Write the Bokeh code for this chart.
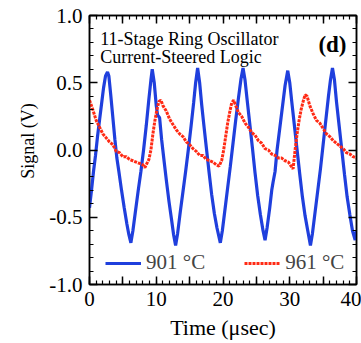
import numpy as np
from bokeh.plotting import figure
from bokeh.models import (LinearAxis, FixedTicker, Range1d, Label, Legend, LegendItem,
                          PrintfTickFormatter, CustomLabelingPolicy)
from bokeh.embed import file_html
from bokeh.resources import INLINE

# ---- data ----
t_901 = [0.0, 0.3, 0.6, 0.9, 1.2, 1.5, 1.8, 2.1, 2.4, 2.7, 2.9, 3.2, 3.5, 3.8, 4.1, 4.4, 4.8, 5.2,
         5.6, 5.9, 6.2, 6.5, 6.9, 7.3, 7.7, 8.1, 8.5, 8.9, 9.2, 9.4, 9.7, 10.0, 10.2, 10.5, 10.8,
         11.1, 11.5, 11.9, 12.3, 12.6, 12.9, 13.2, 13.6, 14.0, 14.4, 14.8, 15.2, 15.6, 15.9, 16.2,
         16.5, 16.8, 17.1, 17.5, 17.9, 18.3, 18.7, 19.1, 19.6, 19.9, 20.3, 20.7, 21.1, 21.5, 21.9,
         22.3, 22.7, 23.0, 23.3, 23.6, 24.0, 24.4, 24.8, 25.2, 25.6, 26.0, 26.3, 26.6, 27.0, 27.3,
         27.5, 27.8, 28.1, 28.5, 28.9, 29.3, 29.7, 30.0, 30.3, 30.7, 31.1, 31.5, 31.9, 32.3, 32.7,
         33.1, 33.4, 33.8, 34.2, 34.6, 35.0, 35.4, 35.8, 36.1, 36.4, 36.7, 37.0, 37.4, 37.8, 38.2,
         38.6, 39.0, 39.4, 39.8, 40.0]
v_901 = [-0.43, -0.30, -0.16, -0.04, 0.10, 0.22, 0.34, 0.46, 0.55, 0.58, 0.55, 0.40, 0.24, 0.08,
         -0.06, -0.16, -0.30, -0.43, -0.55, -0.63, -0.69, -0.60, -0.45, -0.30, -0.16, 0.00, 0.18,
         0.38, 0.52, 0.60, 0.50, 0.33, 0.26, 0.24, 0.08, -0.05, -0.22, -0.38, -0.52, -0.63, -0.71,
         -0.62, -0.46, -0.31, -0.16, 0.00, 0.17, 0.35, 0.50, 0.61, 0.50, 0.34, 0.20, 0.02, -0.16,
         -0.33, -0.47, -0.58, -0.69, -0.60, -0.44, -0.28, -0.12, 0.05, 0.22, 0.38, 0.53, 0.61,
         0.52, 0.38, 0.20, 0.02, -0.17, -0.34, -0.48, -0.60, -0.67, -0.58, -0.43, -0.30, -0.24,
         -0.16, 0.00, 0.16, 0.32, 0.48, 0.59, 0.50, 0.36, 0.18, 0.00, -0.18, -0.35, -0.49, -0.60,
         -0.71, -0.62, -0.46, -0.30, -0.14, 0.04, 0.22, 0.40, 0.52, 0.61, 0.52, 0.36, 0.18, 0.00,
         -0.18, -0.35, -0.48, -0.60, -0.67, -0.60]

t_961 = [0.0, 0.5, 1.0, 1.5, 2.0, 2.5, 3.0, 3.5, 4.0, 4.5, 5.0, 5.5, 6.0, 6.5, 7.0, 7.5, 8.0, 8.3,
         8.6, 8.9, 9.2, 9.5, 9.8, 10.1, 10.4, 10.7, 11.0, 11.5, 12.0, 12.5, 13.0, 13.5, 14.0, 14.5,
         15.0, 15.5, 16.0, 16.5, 17.0, 17.5, 18.0, 18.5, 19.0, 19.4, 19.8, 20.1, 20.4, 20.7, 21.0,
         21.3, 21.6, 21.9, 22.3, 22.8, 23.3, 23.8, 24.3, 24.8, 25.3, 25.8, 26.3, 26.8, 27.3, 27.8,
         28.3, 28.8, 29.3, 29.8, 30.2, 30.5, 30.8, 31.1, 31.4, 31.7, 32.0, 32.3, 32.6, 33.0, 33.5,
         34.0, 34.5, 35.0, 35.5, 36.0, 36.5, 37.0, 37.5, 38.0, 38.5, 39.0, 39.5, 40.0]
v_961 = [0.37, 0.30, 0.22, 0.17, 0.12, 0.09, 0.06, 0.04, -0.01, -0.02, -0.05, -0.05, -0.07, -0.08,
         -0.09, -0.10, -0.11, -0.13, -0.10, -0.07, 0.00, 0.12, 0.22, 0.30, 0.36, 0.37, 0.33, 0.29,
         0.23, 0.19, 0.15, 0.12, 0.10, 0.06, 0.04, 0.01, -0.01, -0.04, -0.04, -0.07, -0.08, -0.09,
         -0.11, -0.12, -0.08, 0.00, 0.10, 0.20, 0.28, 0.35, 0.37, 0.33, 0.28, 0.25, 0.20, 0.17,
         0.13, 0.11, 0.07, 0.05, 0.01, 0.00, -0.03, -0.04, -0.06, -0.06, -0.08, -0.09, -0.12,
         -0.14, 0.00, 0.12, 0.22, 0.30, 0.36, 0.41, 0.40, 0.33, 0.27, 0.22, 0.20, 0.16, 0.12, 0.10,
         0.07, 0.05, 0.03, 0.01, -0.02, -0.03, -0.05, -0.06]

x_ticks = [0, 5, 10, 15, 20, 25, 30, 35, 40]
x_labels = {0: "0", 5: "", 10: "10", 15: "", 20: "20", 25: "", 30: "30", 35: "", 40: "40"}
y_ticks = [-1.0, -0.5, 0.0, 0.5, 1.0]

series_names = ["901 °C", "961 °C"]
title_lines = ["11-Stage Ring Oscillator", "Current-Steered Logic"]

BLUE = "#1f3fdd"
RED = "#ff2a14"
FONT = "'Liberation Serif', 'Times New Roman', serif"

p = figure(width=361, height=343, output_backend="svg", toolbar_location=None,
           x_range=Range1d(0, 40), y_range=Range1d(-1, 1),
           x_axis_location=None, y_axis_location=None,
           min_border_left=89, min_border_right=4, min_border_top=15, min_border_bottom=59)
p.xgrid.visible = False
p.ygrid.visible = False
p.outline_line_color = "black"
p.outline_line_width = 1.5
p.background_fill_color = "white"
p.border_fill_color = "white"

xt = FixedTicker(ticks=x_ticks, minor_ticks=list(range(0, 41)))
yt = FixedTicker(ticks=y_ticks, minor_ticks=[round(v, 1) for v in np.arange(-1.0, 1.01, 0.1)])

no_labels = CustomLabelingPolicy(code="""
for (const i of indices) indices.unset(i)
return indices
""")


def style(ax, labels):
    ax.major_tick_in = 8
    ax.major_tick_out = 0
    ax.minor_tick_in = 4
    ax.minor_tick_out = 0
    ax.axis_line_width = 1.5
    ax.major_tick_line_width = 1.5
    ax.minor_tick_line_width = 1.2
    ax.axis_line_color = "black"
    ax.major_tick_line_color = "black"
    ax.minor_tick_line_color = "black"
    if labels:
        ax.major_label_text_font = FONT
        ax.major_label_text_font_size = "21px"
        ax.major_label_text_color = "black"
        ax.axis_label_text_font = FONT
        ax.axis_label_text_font_style = "normal"
        ax.axis_label_text_color = "black"
    else:
        ax.major_label_text_font_size = "1px"
        ax.major_label_standoff = 0
        ax.major_label_policy = no_labels
        ax.axis_label = None


bottom = LinearAxis(ticker=xt, major_label_overrides=x_labels, axis_label="Time (μsec)")
style(bottom, True)
bottom.axis_label_text_font_size = "22px"
bottom.major_label_standoff = 7
bottom.axis_label_standoff = 6
p.add_layout(bottom, "below")

left = LinearAxis(ticker=yt, formatter=PrintfTickFormatter(format="%.1f"),
                  axis_label="\u00a0\u00a0\u00a0\u00a0Signal (V)")
style(left, True)
left.axis_label_text_font_size = "18px"
left.major_label_standoff = 7
left.axis_label_standoff = 8
p.add_layout(left, "left")

top = LinearAxis(ticker=xt)
style(top, False)
p.add_layout(top, "above")

right = LinearAxis(ticker=yt)
style(right, False)
p.add_layout(right, "right")

r1 = p.line(t_901, v_901, line_color=BLUE, line_width=3.2)
r2 = p.line(t_961, v_961, line_color=RED, line_width=3, line_dash="3 1")

legend = Legend(items=[LegendItem(label=series_names[0], renderers=[r1]),
                       LegendItem(label=series_names[1], renderers=[r2])],
                orientation="horizontal", location=(16, 9),
                background_fill_alpha=0, border_line_alpha=0,
                padding=0, margin=0, spacing=39, glyph_width=36, glyph_height=20,
                label_height=20, label_standoff=5,
                label_text_font=FONT, label_text_font_size="21px")
p.add_layout(legend)

p.add_layout(Label(x=1.6, y=0.822, text=title_lines[0], text_font=FONT, text_font_size="18px",
                   text_baseline="alphabetic", text_color="black"))
p.add_layout(Label(x=1.6, y=0.688, text=title_lines[1], text_font=FONT, text_font_size="18px",
                   text_baseline="alphabetic", text_color="black"))
p.add_layout(Label(x=38.5, y=0.784, text="(d)", text_font=FONT, text_font_size="23px",
                   text_font_style="bold", text_align="right", text_baseline="alphabetic",
                   text_color="black"))

open("out.html", "w").write(file_html(p, INLINE))
